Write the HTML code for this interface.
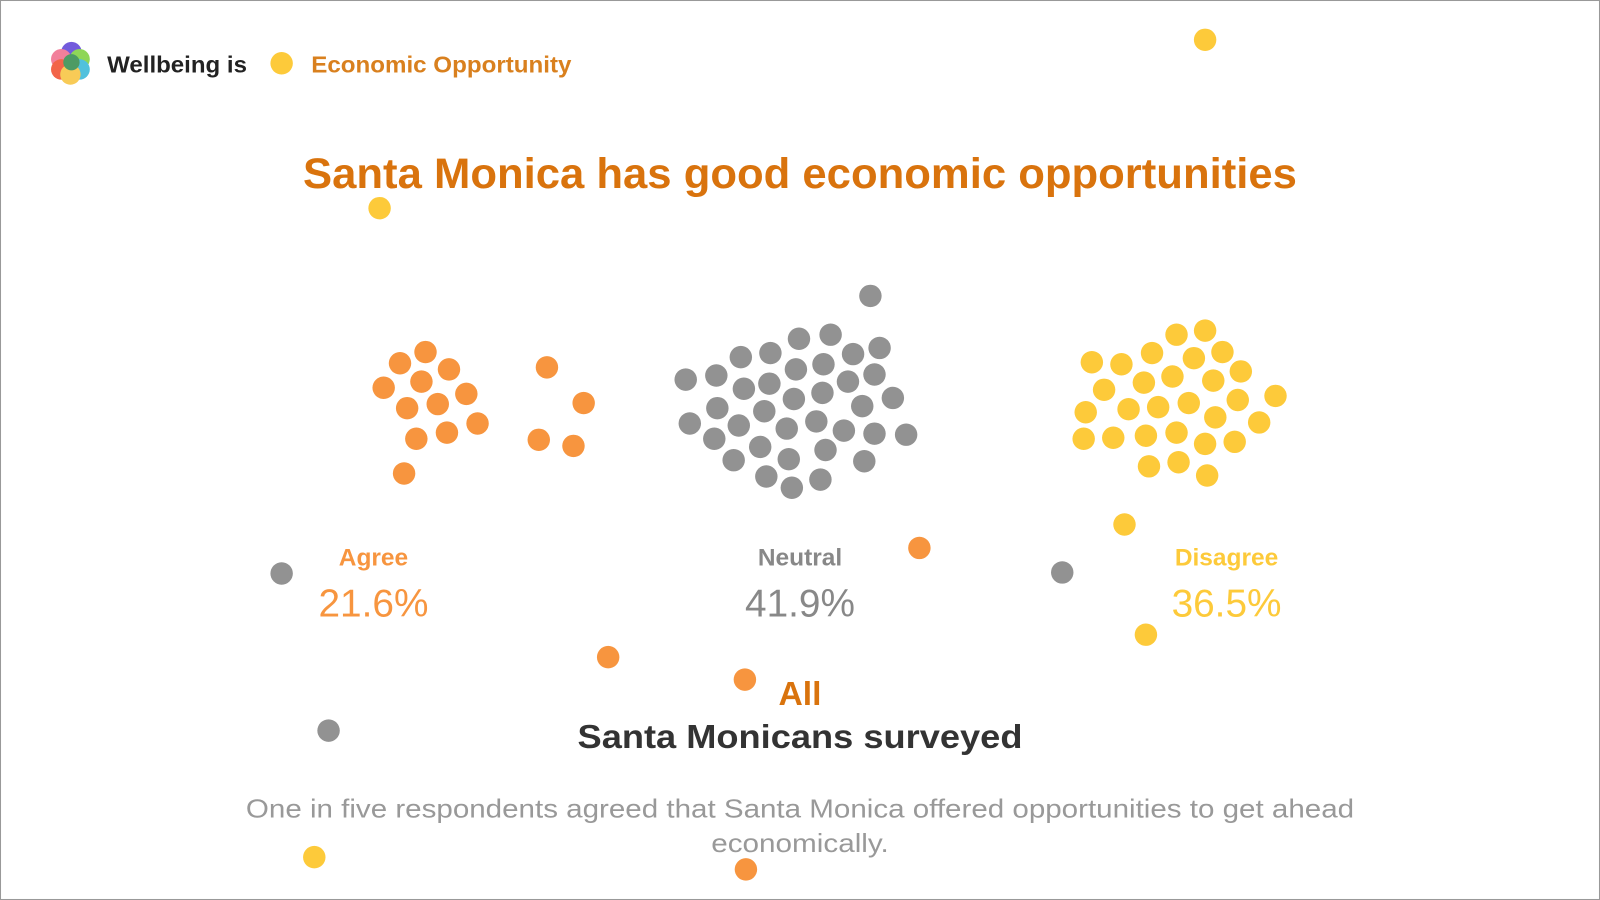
<!DOCTYPE html>
<html><head><meta charset="utf-8"><style>
html,body{margin:0;padding:0;background:#fff;width:1600px;height:900px;overflow:hidden}
svg{display:block}
text{font-family:"Liberation Sans",sans-serif}
</style></head><body>
<svg id="chart" width="1600" height="900" viewBox="0 0 1568 882" preserveAspectRatio="none">
<rect x="0.5" y="0.5" width="1567" height="881" fill="#fff" stroke="#999" stroke-width="1"/>
<g opacity="0.85">
<circle cx="70" cy="51" r="10" fill="#5b3fd6"/><circle cx="78" cy="58" r="10" fill="#7ccf3c"/>
<circle cx="60" cy="58" r="10" fill="#f06a8a"/><circle cx="60" cy="68" r="10" fill="#f04a2a"/>
<circle cx="78" cy="68" r="10" fill="#33b7d8"/><circle cx="69" cy="73" r="10" fill="#f7c23a"/>
<circle cx="70" cy="61" r="8" fill="#2f8a4a"/>
</g>
<text x="105" y="71" font-size="23" font-weight="bold" fill="#222" textLength="137" lengthAdjust="spacingAndGlyphs">Wellbeing is</text>
<text x="305" y="71" font-size="23" font-weight="bold" fill="#d9801e" textLength="255" lengthAdjust="spacingAndGlyphs">Economic Opportunity</text>
<text x="297" y="184" font-size="42" font-weight="bold" fill="#d9730d" textLength="974" lengthAdjust="spacingAndGlyphs">Santa Monica has good economic opportunities</text>
<g id="dots"></g>
<g id="labels"></g>
<text x="784" y="691" font-size="33" font-weight="bold" fill="#d9730d" text-anchor="middle">All</text>
<text x="566" y="733" font-size="33" font-weight="bold" fill="#333" textLength="436" lengthAdjust="spacingAndGlyphs">Santa Monicans surveyed</text>
<text x="241" y="801" font-size="25" fill="#999" textLength="1086" lengthAdjust="spacingAndGlyphs">One in five respondents agreed that Santa Monica offered opportunities to get ahead</text>
<text x="697" y="835" font-size="25" fill="#999" textLength="174" lengthAdjust="spacingAndGlyphs">economically.</text>
</svg>
<script>
const categories = ['Agree','Neutral','Disagree'];
const percents = [21.6, 41.9, 36.5];
const colors = ['#f7953f','#929292','#fdca3a'];
const labelX = [366, 784, 1202];
const agreeDots = [[417,345],[392,356],[440,362],[376,380],[413,374],[457,386],[399,400],[429,396],[468,415],[408,430],[438,424],[396,464],[536,360],[572,395],[528,431],[562,437],[901,537],[596,644],[730,666],[731,852]];
const neutralDots = [[853,290],[783,332],[814,328],[726,350],[755,346],[836,347],[862,341],[672,372],[702,368],[729,381],[754,376],[780,362],[807,357],[831,374],[857,367],[703,400],[749,403],[778,391],[806,385],[875,390],[845,398],[676,415],[724,417],[700,430],[771,420],[800,413],[827,422],[857,425],[888,426],[745,438],[773,450],[809,441],[719,451],[751,467],[776,478],[804,470],[847,452],[276,562],[1041,561],[322,716]];
const disagreeDots = [[1181,324],[1153,328],[1070,355],[1099,357],[1129,346],[1170,351],[1198,345],[1216,364],[1082,382],[1121,375],[1149,369],[1189,373],[1250,388],[1064,404],[1106,401],[1135,399],[1165,395],[1213,392],[1191,409],[1234,414],[1062,430],[1091,429],[1123,427],[1153,424],[1181,435],[1210,433],[1126,457],[1155,453],[1183,466],[1102,514],[1123,622],[1181,39],[372,204],[308,840],[276,62]];
const NS='http://www.w3.org/2000/svg';
const dg=document.getElementById('dots'), lg=document.getElementById('labels');
[agreeDots,neutralDots,disagreeDots].forEach((set,i)=>{
  set.forEach(p=>{
    const c=document.createElementNS(NS,'circle');
    c.setAttribute('cx',p[0]);c.setAttribute('cy',p[1]);c.setAttribute('r',11);
    c.setAttribute('fill',colors[i]);
    
    
    dg.appendChild(c);
  });
  const t=document.createElementNS(NS,'text');
  t.setAttribute('x',labelX[i]);t.setAttribute('y',554);t.setAttribute('font-size',24);
  t.setAttribute('font-weight','bold');t.setAttribute('text-anchor','middle');
  t.setAttribute('fill',i==1?'#888':colors[i]);t.textContent=categories[i];
  
  
  lg.appendChild(t);
  const v=document.createElementNS(NS,'text');
  v.setAttribute('x',labelX[i]);v.setAttribute('y',604);v.setAttribute('font-size',38);
  v.setAttribute('text-anchor','middle');
  v.setAttribute('fill',i==1?'#888':colors[i]);v.textContent=percents[i].toFixed(1)+'%';
  
  
  lg.appendChild(v);
});
</script>
</body></html>
